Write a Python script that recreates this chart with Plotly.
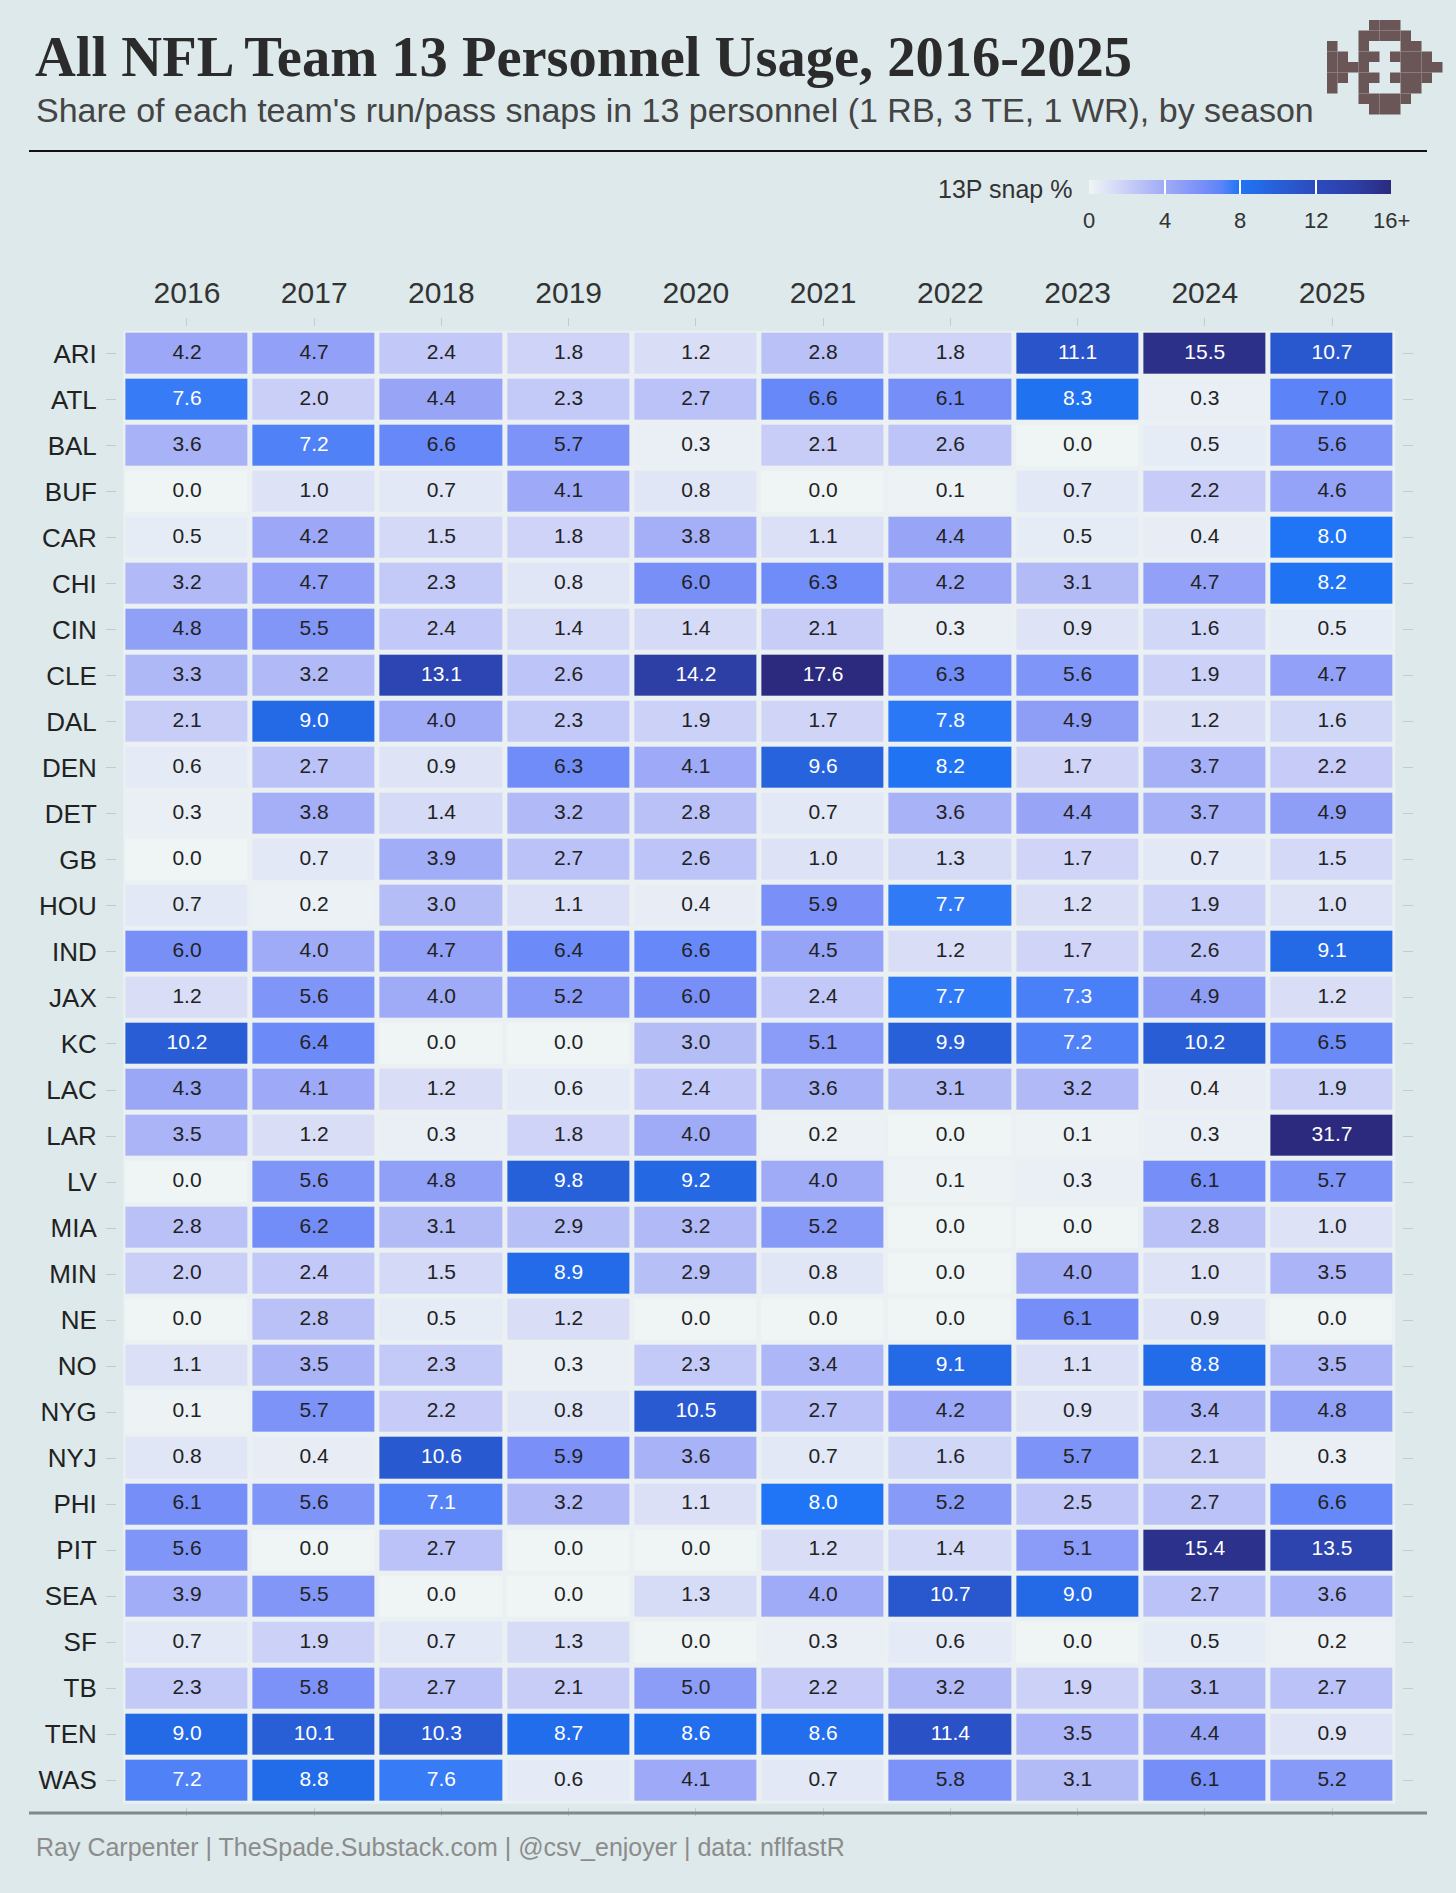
import plotly.graph_objects as go

# --- data: share of run/pass snaps in 13 personnel (%) ---
seasons = ["2016", "2017", "2018", "2019", "2020", "2021", "2022", "2023", "2024", "2025"]
teams = ["ARI", "ATL", "BAL", "BUF", "CAR", "CHI", "CIN", "CLE", "DAL", "DEN", "DET",
         "GB", "HOU", "IND", "JAX", "KC", "LAC", "LAR", "LV", "MIA", "MIN", "NE",
         "NO", "NYG", "NYJ", "PHI", "PIT", "SEA", "SF", "TB", "TEN", "WAS"]

ari = [4.2, 4.7, 2.4, 1.8, 1.2, 2.8, 1.8, 11.1, 15.5, 10.7]
atl = [7.6, 2.0, 4.4, 2.3, 2.7, 6.6, 6.1, 8.3, 0.3, 7.0]
bal = [3.6, 7.2, 6.6, 5.7, 0.3, 2.1, 2.6, 0.0, 0.5, 5.6]
buf = [0.0, 1.0, 0.7, 4.1, 0.8, 0.0, 0.1, 0.7, 2.2, 4.6]
car = [0.5, 4.2, 1.5, 1.8, 3.8, 1.1, 4.4, 0.5, 0.4, 8.0]
chi = [3.2, 4.7, 2.3, 0.8, 6.0, 6.3, 4.2, 3.1, 4.7, 8.2]
cin = [4.8, 5.5, 2.4, 1.4, 1.4, 2.1, 0.3, 0.9, 1.6, 0.5]
cle = [3.3, 3.2, 13.1, 2.6, 14.2, 17.6, 6.3, 5.6, 1.9, 4.7]
dal = [2.1, 9.0, 4.0, 2.3, 1.9, 1.7, 7.8, 4.9, 1.2, 1.6]
den = [0.6, 2.7, 0.9, 6.3, 4.1, 9.6, 8.2, 1.7, 3.7, 2.2]
det = [0.3, 3.8, 1.4, 3.2, 2.8, 0.7, 3.6, 4.4, 3.7, 4.9]
gb = [0.0, 0.7, 3.9, 2.7, 2.6, 1.0, 1.3, 1.7, 0.7, 1.5]
hou = [0.7, 0.2, 3.0, 1.1, 0.4, 5.9, 7.7, 1.2, 1.9, 1.0]
ind = [6.0, 4.0, 4.7, 6.4, 6.6, 4.5, 1.2, 1.7, 2.6, 9.1]
jax = [1.2, 5.6, 4.0, 5.2, 6.0, 2.4, 7.7, 7.3, 4.9, 1.2]
kc = [10.2, 6.4, 0.0, 0.0, 3.0, 5.1, 9.9, 7.2, 10.2, 6.5]
lac = [4.3, 4.1, 1.2, 0.6, 2.4, 3.6, 3.1, 3.2, 0.4, 1.9]
lar = [3.5, 1.2, 0.3, 1.8, 4.0, 0.2, 0.0, 0.1, 0.3, 31.7]
lv = [0.0, 5.6, 4.8, 9.8, 9.2, 4.0, 0.1, 0.3, 6.1, 5.7]
mia = [2.8, 6.2, 3.1, 2.9, 3.2, 5.2, 0.0, 0.0, 2.8, 1.0]
min_ = [2.0, 2.4, 1.5, 8.9, 2.9, 0.8, 0.0, 4.0, 1.0, 3.5]
ne = [0.0, 2.8, 0.5, 1.2, 0.0, 0.0, 0.0, 6.1, 0.9, 0.0]
no = [1.1, 3.5, 2.3, 0.3, 2.3, 3.4, 9.1, 1.1, 8.8, 3.5]
nyg = [0.1, 5.7, 2.2, 0.8, 10.5, 2.7, 4.2, 0.9, 3.4, 4.8]
nyj = [0.8, 0.4, 10.6, 5.9, 3.6, 0.7, 1.6, 5.7, 2.1, 0.3]
phi = [6.1, 5.6, 7.1, 3.2, 1.1, 8.0, 5.2, 2.5, 2.7, 6.6]
pit = [5.6, 0.0, 2.7, 0.0, 0.0, 1.2, 1.4, 5.1, 15.4, 13.5]
sea = [3.9, 5.5, 0.0, 0.0, 1.3, 4.0, 10.7, 9.0, 2.7, 3.6]
sf = [0.7, 1.9, 0.7, 1.3, 0.0, 0.3, 0.6, 0.0, 0.5, 0.2]
tb = [2.3, 5.8, 2.7, 2.1, 5.0, 2.2, 3.2, 1.9, 3.1, 2.7]
ten = [9.0, 10.1, 10.3, 8.7, 8.6, 8.6, 11.4, 3.5, 4.4, 0.9]
was = [7.2, 8.8, 7.6, 0.6, 4.1, 0.7, 5.8, 3.1, 6.1, 5.2]

z = [ari, atl, bal, buf, car, chi, cin, cle, dal, den, det, gb, hou, ind, jax, kc,
     lac, lar, lv, mia, min_, ne, no, nyg, nyj, phi, pit, sea, sf, tb, ten, was]

legend_ticks = [0, 4, 8, 12, 16]
legend_labels = ["0", "4", "8", "12", "16+"]

# --- styling ---
BG = "#dde9ea"
GAP = "#ebf1f2"
TICK = "#c3cccc"
SCALE = [
    [0 / 16, "rgb(239,245,245)"],
    [2 / 16, "rgb(202,207,247)"],
    [4 / 16, "rgb(160,171,247)"],
    [6 / 16, "rgb(120,143,248)"],
    [7 / 16, "rgb(92,132,248)"],
    [8 / 16, "rgb(31,117,245)"],
    [10 / 16, "rgb(40,95,215)"],
    [12 / 16, "rgb(44,75,190)"],
    [14 / 16, "rgb(45,64,168)"],
    [16 / 16, "rgb(43,42,126)"],
]

W, H = 1456, 1893
PL, PR, PT, PB = 117, 1402, 327, 1807
# colour legend bar (pixels)
CB_L, CB_R, CB_T, CB_H = 1089, 1391, 180, 14


def px(x):
    return (x - PL) / (PR - PL)


def py(y):
    return (PB - y) / (PB - PT)


fig = go.Figure()

# light underlay so tile gaps look like thin white borders
fig.add_trace(go.Heatmap(
    x=seasons, y=teams, z=[[1] * len(seasons) for _ in teams],
    colorscale=[[0, GAP], [1, GAP]], showscale=False, hoverinfo="skip"
))

fig.add_trace(go.Heatmap(
    x=seasons, y=teams, z=z,
    zmin=0, zmax=16, colorscale=SCALE,
    xgap=5, ygap=5,
    hovertemplate="%{y} %{x}: %{z:.1f}%<extra></extra>",
    colorbar=dict(
        orientation="h",
        xref="paper", yref="paper",
        x=px(CB_L), xanchor="left",
        y=py(CB_T), yanchor="top",
        len=CB_R - CB_L, lenmode="pixels",
        thickness=CB_H, thicknessmode="pixels",
        xpad=0, ypad=0, outlinewidth=0,
        tickvals=legend_ticks, showticklabels=False,
        ticks="inside", ticklen=CB_H, tickwidth=1.5, tickcolor="white",
    ),
))

# cell labels
xs, ys, txt, cols = [], [], [], []
for team, row in zip(teams, z):
    for season, v in zip(seasons, row):
        xs.append(season)
        ys.append(team)
        txt.append(f"{v:.1f}")
        cols.append("white" if v > 7.0 else "#222222")

fig.add_trace(go.Scatter(
    x=xs, y=ys, text=txt, mode="text",
    textfont=dict(size=21, color=cols, family="Liberation Sans"),
    hoverinfo="skip", showlegend=False
))

fig.update_xaxes(
    type="category", side="top", range=[-0.55, len(seasons) - 0.45],
    showgrid=False, zeroline=False, showline=False,
    ticks="outside", ticklen=8, tickcolor=TICK, tickwidth=1, mirror="ticks",
    tickfont=dict(size=30, color="#333333"), ticklabelstandoff=3,
)
fig.update_yaxes(
    type="category", categoryorder="array", categoryarray=teams,
    range=[len(teams) - 0.42, -0.58],
    showgrid=False, zeroline=False, showline=False,
    ticks="outside", ticklen=10, tickcolor=TICK, tickwidth=1, mirror="ticks",
    tickfont=dict(size=26, color="#222222"), ticklabelstandoff=4,
)

annotations = [
    dict(text="<b>All NFL Team 13 Personnel Usage, 2016-2025</b>",
         x=px(33), y=py(57), xanchor="left", yanchor="middle",
         font=dict(family="Liberation Serif", size=56.5, color="#2b2b2b")),
    dict(text="Share of each team's run/pass snaps in 13 personnel (1 RB, 3 TE, 1 WR), by season",
         x=px(34), y=py(110), xanchor="left", yanchor="middle",
         font=dict(size=34, color="#444444")),
    dict(text="13P snap %", x=px(1074), y=py(189), xanchor="right", yanchor="middle",
         font=dict(size=25, color="#333333")),
    dict(text="Ray Carpenter | TheSpade.Substack.com | @csv_enjoyer | data: nflfastR",
         x=px(34), y=py(1847), xanchor="left", yanchor="middle",
         font=dict(size=25, color="#8c8c8c")),
]
# legend tick labels placed under the bar
for t, lab in zip(legend_ticks, legend_labels):
    xpos = CB_L + (CB_R - CB_L) * t / legend_ticks[-1]
    annotations.append(dict(text=lab, x=px(xpos), y=py(220),
                            xanchor="center", yanchor="middle",
                            font=dict(size=22, color="#333333")))
for a in annotations:
    a.update(xref="paper", yref="paper", showarrow=False)

shapes = [
    dict(type="line", xref="paper", yref="paper", x0=px(29), x1=px(1427),
         y0=py(151), y1=py(151), line=dict(color="#111111", width=2)),
    dict(type="line", xref="paper", yref="paper", x0=px(29), x1=px(1427),
         y0=py(1813), y1=py(1813), line=dict(color="#7d8a8a", width=3)),
]

# pixel logo (top right)
logo = [
    "....###....",
    "...#####...",
    "#..#...##..",
    "##.##.####.",
    "####...####",
    "##.##.####.",
    "#..#...##..",
    "...#####...",
    "....###....",
]
cell, lx, ly = 10.5, 1327, 20
for r, line in enumerate(logo):
    for c, ch in enumerate(line):
        if ch == "#":
            shapes.append(dict(
                type="rect", xref="paper", yref="paper",
                x0=px(lx + c * cell), x1=px(lx + (c + 1) * cell),
                y0=py(ly + (r + 1) * cell), y1=py(ly + r * cell),
                fillcolor="#6a5656", line=dict(width=0),
            ))

fig.update_layout(
    width=W, height=H,
    margin=dict(l=PL, r=W - PR, t=PT, b=H - PB),
    paper_bgcolor=BG, plot_bgcolor=BG,
    font=dict(family="Liberation Sans, Arial, sans-serif"),
    annotations=annotations, shapes=shapes,
    showlegend=False,
)

fig.write_html("out.html", config={"displayModeBar": False},
               post_script="document.body.style.margin='0';")
